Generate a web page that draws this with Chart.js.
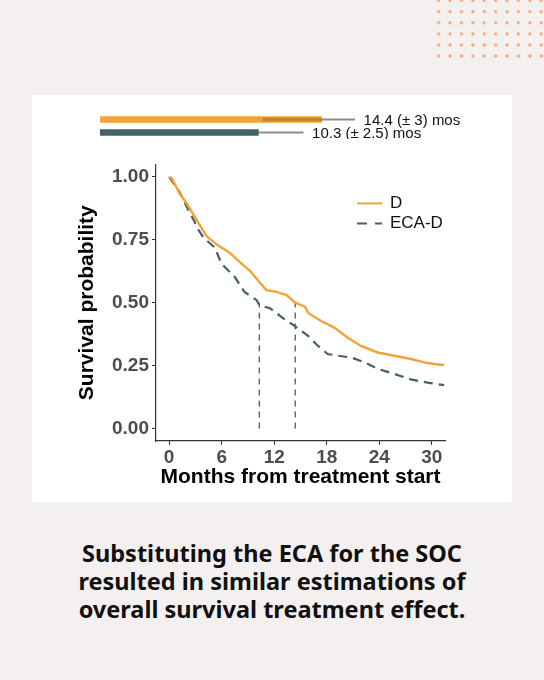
<!DOCTYPE html>
<html>
<head>
<meta charset="utf-8">
<script src="https://cdn.jsdelivr.net/npm/chart.js@4.4.1/dist/chart.umd.min.js"></script>
<style>
  body{margin:0;width:544px;height:680px;background:#f4f0f0;position:relative;overflow:hidden;font-family:"Liberation Sans",Arial,sans-serif;}
  .dots{position:absolute;left:433px;top:-5px;width:116px;height:67px;
    background-image:radial-gradient(circle,#f3a57a 1.3px,transparent 1.8px);
    background-size:11.4px 11.1px;}
  .panel{position:absolute;left:32px;top:95px;width:480px;height:407px;background:#fff;}
  #barChart{position:absolute;left:100px;top:113px;}
  #kmChart{position:absolute;left:40px;top:150px;}
  .caption{position:absolute;left:0;top:539px;width:544px;text-align:center;
    font-family:"Noto Sans",sans-serif;font-weight:700;font-size:23.5px;line-height:28px;color:#111;}
</style>
</head>
<body>
<div class="dots"></div>
<div class="panel"></div>
<canvas id="barChart" width="400" height="26"></canvas>
<canvas id="kmChart" width="420" height="350"></canvas>
<div class="caption">Substituting the ECA for the SOC<br>resulted in similar estimations of<br>overall survival treatment effect.</div>

<script>
// ==========================
// Data
// ==========================

const groups=["D","ECA-D"];
const medians=[14.4,10.3];
const medianErr=["3","2.5"];
const whiskerLow=[10.6,null];
const whiskerHigh=[16.55,13.2];

const xTicks=[0,6,12,18,24,30];
const yTicks=[0,0.25,0.5,0.75,1];

// survival curve D
const dMonths=[0,0.3,1.2,2.0,2.9,3.7,4.3,5.4,6.9,8.1,9.2,10.3,11.1,12.3,13.4,14.4,15.5,15.9,17.4,18.9,20.4,21.9,23.8,25.7,27.6,29.5,30.5,31.4];
const dSurv=[1.0,0.995,0.934,0.895,0.843,0.797,0.764,0.732,0.699,0.66,0.628,0.582,0.55,0.543,0.53,0.5,0.484,0.458,0.426,0.4,0.361,0.328,0.302,0.289,0.276,0.26,0.255,0.252];

// survival curve ECA-D
const ecaMonths=[0,1.2,2.2,2.9,3.1,3.9,5.2,6.0,7.5,8.6,10.0,10.3,11.5,13.0,14.4,15.9,17.0,18.1,19.3,20.8,22.3,23.8,25.7,27.6,29.5,31.4];
const ecaSurv=[1.0,0.94,0.868,0.823,0.803,0.76,0.719,0.654,0.602,0.543,0.51,0.49,0.478,0.439,0.406,0.367,0.328,0.296,0.289,0.282,0.263,0.237,0.217,0.195,0.182,0.172];

const ORANGE="#f5a236";
const TEAL="#42626a";

// ==========================
// Median bars (top)
// ==========================

const barLabels={
    id:"barLabels",
    afterDatasetsDraw(chart){
        const {ctx,scales:{x,y}}=chart;
        ctx.save();
        ctx.font="15px 'Liberation Sans', Arial, sans-serif";
        ctx.fillStyle="#111";
        ctx.textBaseline="middle";
        groups.forEach((g,i)=>{
            const tx=x.getPixelForValue(whiskerHigh[i])+9;
            const ty=y.getPixelForValue(i)+1;
            ctx.fillText(medians[i]+" (\u00b1 "+medianErr[i]+") mos",tx,ty);
        });
        ctx.restore();
    }
};

new Chart(document.getElementById("barChart"),{
    type:"bar",
    data:{
        labels:groups,
        datasets:[
            {
                data:medians,
                backgroundColor:[ORANGE,TEAL],
                barThickness:6,
                grouped:false,
                order:3
            },
            {
                data:groups.map((g,i)=>whiskerLow[i]===null?null:[whiskerLow[i],medians[i]]),
                backgroundColor:"rgba(120,70,20,0.35)",
                barThickness:3,
                grouped:false,
                order:2
            },
            {
                data:groups.map((g,i)=>[medians[i],whiskerHigh[i]]),
                backgroundColor:"#8a8a8a",
                barThickness:1.3,
                grouped:false,
                order:1
            }
        ]
    },
    options:{
        indexAxis:"y",
        responsive:false,
        animation:false,
        layout:{padding:0},
        plugins:{legend:{display:false},tooltip:{enabled:false}},
        scales:{
            x:{display:false,min:0,max:26},
            y:{display:false}
        }
    },
    plugins:[barLabels]
});

// ==========================
// Survival chart
// ==========================

const kmLegend={
    id:"kmLegend",
    afterDraw(chart){
        const {ctx,chartArea}=chart;
        const lx=chartArea.left+201;
        const ly=chartArea.top+39;
        ctx.save();
        ctx.lineWidth=2;
        ctx.strokeStyle=ORANGE;
        ctx.beginPath();ctx.moveTo(lx,ly);ctx.lineTo(lx+25,ly);ctx.stroke();
        ctx.strokeStyle=TEAL;
        ctx.setLineDash([10,8]);
        ctx.beginPath();ctx.moveTo(lx,ly+20);ctx.lineTo(lx+25,ly+20);ctx.stroke();
        ctx.setLineDash([]);
        ctx.fillStyle="#111";
        ctx.font="17px 'Liberation Sans', Arial, sans-serif";
        ctx.textBaseline="middle";
        ctx.fillText("D",lx+33,ly);
        ctx.fillText("ECA-D",lx+33,ly+20);
        ctx.restore();
    }
};

const medianLines=medians.map(m=>({
    data:[{x:m,y:0},{x:m,y:0.5}],
    borderColor:"#6b6b6b",
    borderWidth:1.5,
    borderDash:[6,5],
    pointRadius:0,
    order:3
}));

new Chart(document.getElementById("kmChart"),{
    type:"line",
    data:{
        datasets:[
            {
                label:"D",
                data:dMonths.map((m,i)=>({x:m,y:dSurv[i]})),
                borderColor:ORANGE,
                borderWidth:2.4,
                pointRadius:0,
                order:1
            },
            {
                label:"ECA-D",
                data:ecaMonths.map((m,i)=>({x:m,y:ecaSurv[i]})),
                borderColor:TEAL,
                borderWidth:2.2,
                borderDash:[9,6],
                pointRadius:0,
                order:2
            },
            ...medianLines
        ]
    },
    options:{
        responsive:false,
        animation:false,
        layout:{padding:{top:10,right:15,bottom:0,left:0}},
        plugins:{legend:{display:false},tooltip:{enabled:false}},
        scales:{
            x:{
                type:"linear",
                min:-1.5,
                max:31.5,
                afterBuildTicks:axis=>{axis.ticks=xTicks.map(v=>({value:v}));},
                afterFit:axis=>{axis.height=59;},
                grid:{drawOnChartArea:false,tickLength:4,color:"#333"},
                border:{color:"#333",width:1.2},
                ticks:{color:"#4d4d4d",padding:1,font:{family:"'Liberation Sans', Arial",size:19,weight:"bold"}},
                title:{display:true,text:"Months from treatment start",color:"#000",padding:{top:0,bottom:10},
                    font:{family:"'Liberation Sans', Arial",size:21,weight:"bold"}}
            },
            y:{
                min:-0.05,
                max:1.05,
                afterBuildTicks:axis=>{axis.ticks=yTicks.map(v=>({value:v}));},
                afterFit:axis=>{axis.width=116;},
                grid:{drawOnChartArea:false,tickLength:4,color:"#333"},
                border:{color:"#333",width:1.2},
                ticks:{color:"#4d4d4d",padding:3,callback:v=>v.toFixed(2),
                    font:{family:"'Liberation Sans', Arial",size:19,weight:"bold"}},
                title:{display:true,text:"Survival probability",color:"#000",padding:{top:35,bottom:0},
                    font:{family:"'Liberation Sans', Arial",size:21,weight:"bold"}}
            }
        }
    },
    plugins:[kmLegend]
});
</script>
</body>
</html>
